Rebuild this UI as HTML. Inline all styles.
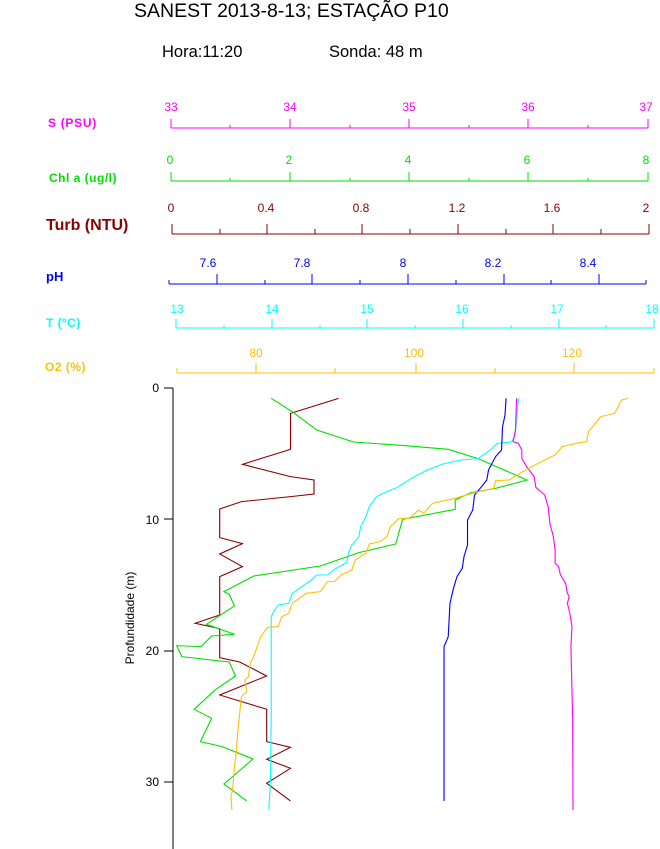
<!DOCTYPE html>
<html><head><meta charset="utf-8"><style>
html,body{margin:0;padding:0;background:#fff;}
svg{display:block;font-family:"Liberation Sans",Arial,sans-serif;}
</style></head><body>
<svg width="660" height="849" viewBox="0 0 660 849" xmlns="http://www.w3.org/2000/svg">
<text x="134" y="17" font-size="19.5" fill="#000">SANEST 2013-8-13; ESTAÇÃO P10</text>
<text x="162" y="57" font-size="16.5" fill="#000">Hora:11:20</text>
<text x="329" y="57" font-size="16.5" fill="#000">Sonda: 48 m</text>

<!-- S -->
<g stroke="#ff00ff" fill="none" stroke-width="1">
<path d="M171,128H648 M171,128v-9 M290,128v-9 M409,128v-9 M528,128v-9 M648,128v-9 M230,128v-3 M350,128v-3 M469,128v-3 M588,128v-3"/>
</g>
<g fill="#ff00ff" font-size="12" text-anchor="middle">
<text x="171" y="111">33</text><text x="290" y="111">34</text><text x="409" y="111">35</text><text x="528" y="111">36</text><text x="646" y="111">37</text>
</g>
<text x="48" y="127" font-size="12" font-weight="bold" fill="#ff00ff" letter-spacing="0.7">S (PSU)</text>

<!-- Chl -->
<g stroke="#00e000" fill="none">
<path d="M171,181H648 M171,181v-9 M290,181v-9 M409,181v-9 M528,181v-9 M648,181v-9 M230,181v-3 M350,181v-3 M469,181v-3 M588,181v-3"/>
</g>
<g fill="#00e000" font-size="12" text-anchor="middle">
<text x="170" y="164">0</text><text x="289" y="164">2</text><text x="408" y="164">4</text><text x="527" y="164">6</text><text x="646" y="164">8</text>
</g>
<text x="49" y="182" font-size="12" font-weight="bold" fill="#00e000" letter-spacing="0.5">Chl a (ug/l)</text>

<!-- Turb -->
<g stroke="#8b0000" fill="none">
<path d="M172,234H649 M172,234v-10 M267,234v-10 M362,234v-10 M458,234v-10 M553,234v-10 M649,234v-10 M220,234v-5 M315,234v-5 M410,234v-5 M506,234v-5 M601,234v-5"/>
</g>
<g fill="#8b0000" font-size="12" text-anchor="middle">
<text x="171" y="212">0</text><text x="266" y="212">0.4</text><text x="361" y="212">0.8</text><text x="457" y="212">1.2</text><text x="552" y="212">1.6</text><text x="646" y="212">2</text>
</g>
<text x="46" y="230" font-size="16" font-weight="bold" fill="#8b0000">Turb (NTU)</text>

<!-- pH -->
<g stroke="#0000ff" fill="none">
<path d="M169,284H646 M169,284v-4 M217,284v-10 M312,284v-10 M408,284v-10 M504,284v-10 M599,284v-10 M265,284v-4 M360,284v-4 M456,284v-4 M551,284v-4 M646,284v-4"/>
</g>
<g fill="#0000ff" font-size="12" text-anchor="middle">
<text x="208" y="267">7.6</text><text x="302" y="267">7.8</text><text x="403" y="267">8</text><text x="493" y="267">8.2</text><text x="588" y="267">8.4</text>
</g>
<text x="46" y="281" font-size="13" font-weight="bold" fill="#0000ff">pH</text>

<!-- T -->
<g stroke="#00ffff" fill="none">
<path d="M176,328H654 M176,328v-9 M272,328v-9 M367,328v-9 M463,328v-9 M559,328v-9 M654,328v-9 M224,328v-3 M320,328v-3 M415,328v-3 M511,328v-3 M606,328v-3"/>
</g>
<g fill="#00ffff" font-size="12" text-anchor="middle">
<text x="177" y="313">13</text><text x="272" y="313">14</text><text x="367" y="313">15</text><text x="462" y="313">16</text><text x="557" y="313">17</text><text x="652" y="313">18</text>
</g>
<text x="46" y="327" font-size="12" font-weight="bold" fill="#00ffff" letter-spacing="0.5">T (ºC)</text>

<!-- O2 -->
<g stroke="#ffc000" fill="none">
<path d="M177,373H654 M177,373v-5 M256,373v-10 M335,373v-5 M416,373v-10 M495,373v-5 M574,373v-10 M654,373v-5"/>
</g>
<g fill="#ffc000" font-size="12" text-anchor="middle">
<text x="256" y="357">80</text><text x="414" y="357">100</text><text x="572" y="357">120</text>
</g>
<text x="45" y="371" font-size="12" font-weight="bold" fill="#ffc000" letter-spacing="0.5">O2 (%)</text>

<!-- depth axis -->
<path d="M173,388V849 M164,388H173 M164,519H173 M164,651H173 M164,782H173" stroke="#000" fill="none"/>
<g font-size="12" text-anchor="end" fill="#000">
<text x="159" y="392">0</text><text x="159" y="524">10</text><text x="159" y="655">20</text><text x="159" y="786">30</text>
</g>
<text transform="translate(134,618) rotate(-90)" font-size="12" text-anchor="middle" fill="#000">Profundidade (m)</text>

<g transform="translate(110,380) scale(0.3505,0.3333)" fill="none" stroke-width="3.2">
<polyline stroke="#8b0000" points="652,55 515,100 515,208 378,253 515,290 582,300 582,342 515,350 375,365 313,387 313,473 378,491 313,522 378,560 313,590 313,705 243,730 313,746 313,833 370,846 447,888 313,945 447,988 447,1085 515,1102 447,1138 515,1165 447,1210 515,1263"/>
<polyline stroke="#00e000" points="460,55 520,95 590,150 695,186 830,196 965,208 1050,236 1190,300 1100,325 1030,338 985,360 985,388 835,418 815,492 710,518 600,558 410,588 325,635 340,643 355,678 275,733 355,763 290,768 260,800 190,797 205,830 340,846 358,888 300,930 240,988 290,1015 258,1085 320,1100 408,1137 325,1212 390,1263"/>
<polyline stroke="#00ffff" points="1165,55 1160,120 1155,170 1145,186 1105,190 1085,210 1050,236 1000,240 950,252 905,270 860,295 820,322 790,335 760,350 740,380 730,410 715,440 710,470 690,495 680,520 675,548 640,568 620,585 590,585 575,600 550,618 520,640 510,670 480,675 470,690 460,710 460,750 460,1000 458,1200 453,1290"/>
<polyline stroke="#0000ff" points="1130,55 1127,105 1120,140 1117,210 1100,230 1080,270 1075,300 1060,320 1040,345 1035,390 1020,420 1020,495 1010,530 1005,565 990,590 980,625 970,670 965,770 953,800 953,1263"/>
<polyline stroke="#ff00ff" points="1160,55 1157,150 1150,185 1165,190 1175,210 1175,235 1190,262 1210,290 1215,322 1240,345 1250,380 1255,430 1265,470 1270,510 1270,550 1280,560 1285,585 1300,610 1305,640 1310,650 1305,670 1312,700 1318,740 1315,800 1320,1015 1321,1290"/>
<polyline stroke="#ffc000" points="1478,55 1460,60 1440,100 1400,110 1385,130 1365,155 1360,185 1330,190 1290,200 1270,225 1240,240 1200,262 1170,280 1140,300 1100,302 1095,325 1040,338 985,355 920,370 895,400 880,390 860,410 850,415 825,415 800,440 790,470 770,485 740,492 730,520 700,540 690,570 660,585 640,605 620,605 600,635 560,640 520,670 510,700 490,710 480,740 450,742 430,770 420,800 410,830 400,850 395,890 385,900 390,935 375,950 370,1000 365,1050 360,1120 355,1160 350,1230 345,1250 348,1290"/>
</g>
</svg>
</body></html>
